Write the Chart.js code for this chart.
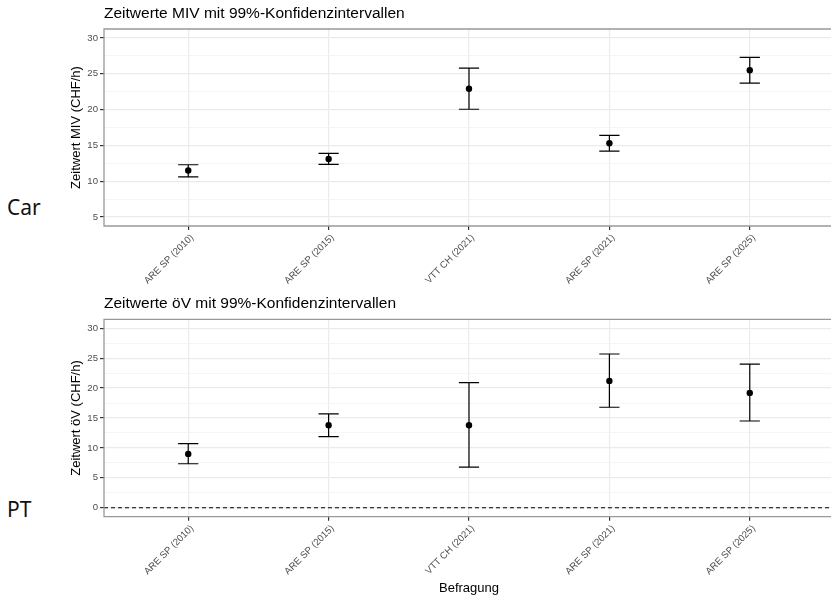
<!DOCTYPE html>
<html>
<head>
<meta charset="utf-8">
<script src="https://cdn.jsdelivr.net/npm/chart.js@4"></script>
<style>
  html, body { margin: 0; padding: 0; background: #fff; }
  #stage { position: relative; width: 831px; height: 596px; overflow: hidden; background: #fff; }
  .panel { position: absolute; left: 0; }
  .side { position: absolute; left: 7px; font-family: "Noto Sans", sans-serif; font-size: 21px; color: #111; line-height: 1; }
</style>
</head>
<body>
<div id="stage">
<div class="side" style="top:197px">Car</div>
<div class="side" style="top:499px">PT</div>
<canvas id="carChart" class="panel" style="top:0px" width="850" height="290"></canvas>
<canvas id="ptChart" class="panel" style="top:290px" width="850" height="306"></canvas>
</div>
<script>
const surveys = ["ARE SP (2010)", "ARE SP (2015)", "VTT CH (2021)", "ARE SP (2021)", "ARE SP (2025)"];

const carValue = [11.5, 13.1, 22.9, 15.3, 25.5];
const carLower = [10.6, 12.35, 20.05, 14.2, 23.7];
const carUpper = [12.3, 13.9, 25.8, 16.4, 27.3];
const carTicks = [5, 10, 15, 20, 25, 30];

const ptValue = [9.0, 13.8, 13.8, 21.2, 19.2];
const ptLower = [7.35, 11.9, 6.8, 16.8, 14.5];
const ptUpper = [10.7, 15.7, 20.9, 25.7, 24.0];
const ptTicks = [0, 5, 10, 15, 20, 25, 30];
const ptRefLine = 0;

const FONT = "'Liberation Sans', Arial, sans-serif";
const CAP = 0.072;

// ggplot-style panel frame (right side falls outside the window)
const panelBorder = {
  id: "panelBorder",
  afterDraw(chart) {
    const { ctx, chartArea: a } = chart;
    ctx.save();
    ctx.strokeStyle = "#999999";
    ctx.lineWidth = 1.3;
    ctx.beginPath();
    ctx.moveTo(a.right + 10, a.top);
    ctx.lineTo(a.left, a.top);
    ctx.lineTo(a.left, a.bottom);
    ctx.lineTo(a.right + 10, a.bottom);
    ctx.stroke();
    ctx.restore();
  }
};

const errorSegments = (lower, upper) => {
  const pts = [];
  lower.forEach((lo, i) => {
    const hi = upper[i];
    pts.push({ x: i - CAP, y: lo }, { x: i + CAP, y: lo }, { x: i, y: null });
    pts.push({ x: i, y: lo }, { x: i, y: hi }, { x: i, y: null });
    pts.push({ x: i - CAP, y: hi }, { x: i + CAP, y: hi }, { x: i, y: null });
  });
  return pts;
};

const errorPanel = (canvasId, title, yTitle, values, lower, upper, ticks, o) => {
  const span = ticks[ticks.length - 1] - ticks[0];
  const yMin = ticks[0] - 0.05 * span;
  const yMax = ticks[ticks.length - 1] + 0.05 * span;
  const step = ticks[1] - ticks[0];
  const isMajor = v => ticks.includes(v);

  const datasets = [
    {
      type: "line",
      data: values.map((v, i) => ({ x: i, y: v })),
      showLine: false,
      pointRadius: 3.2,
      pointBackgroundColor: "#000",
      pointBorderColor: "#000",
      pointBorderWidth: 0
    },
    {
      type: "line",
      data: errorSegments(lower, upper),
      borderColor: "#000",
      borderWidth: 1.2,
      pointRadius: 0,
      spanGaps: false,
      tension: 0
    }
  ];
  if (o.refLine !== undefined) {
    datasets.push({
      type: "line",
      data: [{ x: -0.6, y: o.refLine }, { x: surveys.length - 0.4, y: o.refLine }],
      borderColor: "#000",
      borderWidth: 1.2,
      borderDash: [4, 3],
      pointRadius: 0
    });
  }

  return new Chart(document.getElementById(canvasId), {
    type: "line",
    data: { datasets },
    plugins: [panelBorder],
    options: {
      responsive: false,
      animation: false,
      layout: { padding: { left: 60, right: 16, top: 0, bottom: 0 } },
      plugins: {
        legend: { display: false },
        tooltip: { enabled: false },
        title: {
          display: true,
          text: title,
          align: "start",
          fullSize: false,
          color: "#000",
          font: { family: FONT, size: 15.5, weight: "normal" },
          padding: { top: 4, bottom: o.titleBottom }
        }
      },
      scales: {
        x: {
          type: "linear",
          min: -0.6,
          max: surveys.length - 0.4,
          afterBuildTicks: s => { s.ticks = surveys.map((_, i) => ({ value: i })); },
          afterFit: s => { s.height = o.xHeight; },
          border: { display: false },
          grid: { color: "#ebebeb", lineWidth: 1.2, tickLength: 4, tickColor: "#333333" },
          ticks: {
            autoSkip: false,
            minRotation: 45,
            maxRotation: 45,
            padding: 2,
            labelOffset: 4,
            color: "#4d4d4d",
            font: { family: FONT, size: 9.6 },
            callback: v => surveys[v]
          },
          title: {
            display: !!o.xTitle,
            text: o.xTitle || "",
            color: "#000",
            font: { family: FONT, size: 13 },
            padding: { top: 0, bottom: 0 }
          }
        },
        y: {
          min: yMin,
          max: yMax,
          afterBuildTicks: s => {
            const list = [];
            ticks.forEach((t, i) => {
              list.push({ value: t });
              if (i < ticks.length - 1) list.push({ value: t + step / 2 });
            });
            s.ticks = list;
          },
          afterFit: s => { s.width = 44; },
          border: { display: false },
          grid: {
            color: c => (isMajor(c.tick.value) ? "#ebebeb" : "#f3f3f3"),
            lineWidth: c => (isMajor(c.tick.value) ? 1.2 : 0.8),
            tickLength: 4,
            tickColor: c => (isMajor(c.tick.value) ? "#333333" : "rgba(0,0,0,0)")
          },
          ticks: {
            padding: 2,
            color: "#4d4d4d",
            font: { family: FONT, size: 9.6 },
            callback: v => (isMajor(v) ? String(v) : "")
          },
          title: {
            display: true,
            text: yTitle,
            color: "#000",
            font: { family: FONT, size: 13 },
            padding: { top: 9, bottom: 0 }
          }
        }
      }
    }
  });
};

errorPanel("carChart", "Zeitwerte MIV mit 99%-Konfidenzintervallen", "Zeitwert MIV (CHF/h)",
  carValue, carLower, carUpper, carTicks, { xHeight: 64, titleBottom: 6.4 });

errorPanel("ptChart", "Zeitwerte öV mit 99%-Konfidenzintervallen", "Zeitwert öV (CHF/h)",
  ptValue, ptLower, ptUpper, ptTicks, { xHeight: 79.3, titleBottom: 6.7, refLine: ptRefLine, xTitle: "Befragung" });
</script>
</body>
</html>
